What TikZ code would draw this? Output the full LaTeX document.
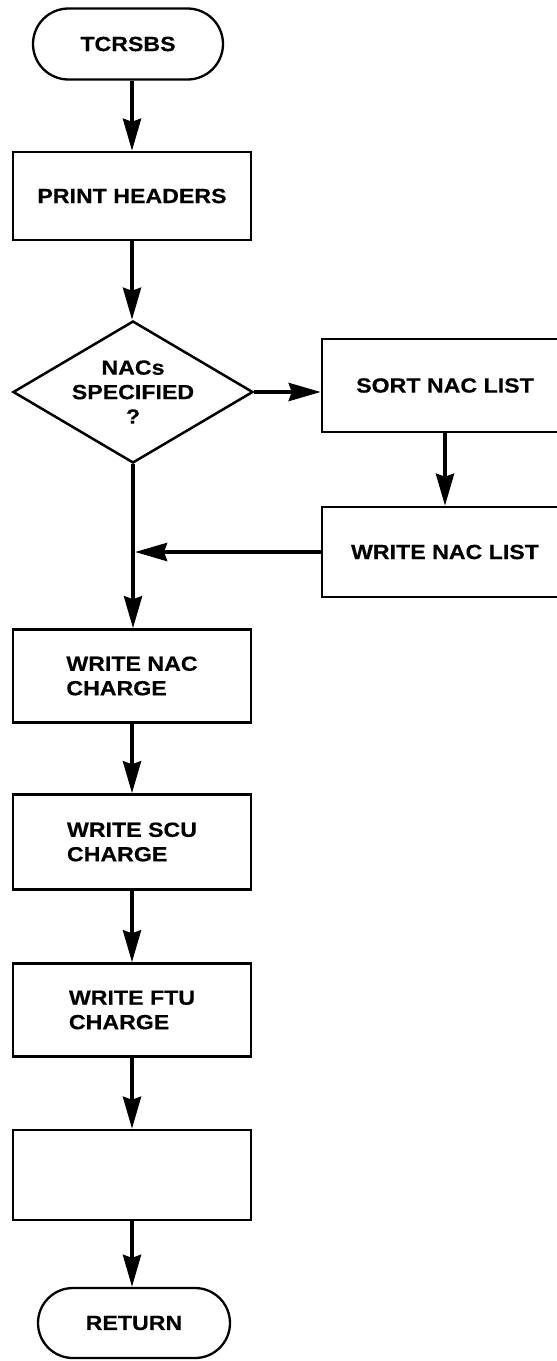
\documentclass[tikz,border=0pt]{standalone}
\usepackage{fontspec}
\setmainfont{Liberation Sans}[FakeStretch=1.13, FakeBold=0.4]
\usetikzlibrary{arrows.meta,shapes.geometric,shapes.misc}
\newcommand\flowfont{\bfseries\fontsize{20.5}{24.5}\selectfont}
\begin{document}
\begin{tikzpicture}[x=1pt,y=-1pt,
  every node/.style={font=\flowfont, inner sep=0pt},
  procbox/.style={draw, line width=2.5pt, rectangle, minimum width=238pt,
    minimum height=92pt, align=left},
  widebox/.style={procbox, minimum width=246pt},
  terminal/.style={draw, line width=2.3pt, rounded rectangle,
    minimum width=190pt, minimum height=71pt},
  decision/.style={draw, line width=2.5pt, diamond, aspect=1.69,
    minimum width=240pt, minimum height=142pt, align=center},
  flow/.style={line width=4pt, -{Stealth[length=32pt, width=18pt, inset=3pt]}}]
\useasboundingbox (0,0) rectangle (557,1361);
\clip (0,0) rectangle (557,1361);

% main column
\node[terminal] (start) at (128,44) {TCRSBS};
\node[procbox, minimum height=88pt] (hdr) at (132,196) {PRINT HEADERS};
\node[decision] (dec) at (133,392) {NACs\\SPECIFIED\\?};
\node[procbox, minimum height=93pt] (nacc) at (132,676) {WRITE NAC\\CHARGE};
\node[procbox, minimum height=95pt] (scuc) at (132,842) {WRITE SCU\\CHARGE};
\node[procbox, minimum height=93pt] (ftuc) at (132,1010) {WRITE FTU\\CHARGE};
\node[procbox, minimum height=90pt] (blank) at (132,1175) {};
\node[terminal, minimum width=192pt, minimum height=70pt] (ret) at (134,1323) {RETURN};

% side branch
\node[widebox, minimum height=93pt] (sort) at (445,385.5) {SORT NAC LIST};
\node[widebox, minimum height=90pt] (wlist) at (445,552) {WRITE NAC LIST};

% connectors
\draw[flow] (hdr.north |- start.south) -- (hdr.north);
\draw[flow] (hdr.south) -- (hdr.south |- dec.north);
\draw[flow] (dec.east) -- (dec.east -| sort.west);
\draw[flow] (sort) -- (wlist);
\draw[flow] (wlist.west) -- ([xshift=2pt]wlist.west -| dec.south);
\draw[flow] (dec.south) -- (dec.south |- nacc.north);
\draw[flow] (nacc) -- (scuc);
\draw[flow] (scuc) -- (ftuc);
\draw[flow] (ftuc) -- (blank);
\draw[flow] (blank.south) -- (blank.south |- ret.north);
\end{tikzpicture}
\end{document}
